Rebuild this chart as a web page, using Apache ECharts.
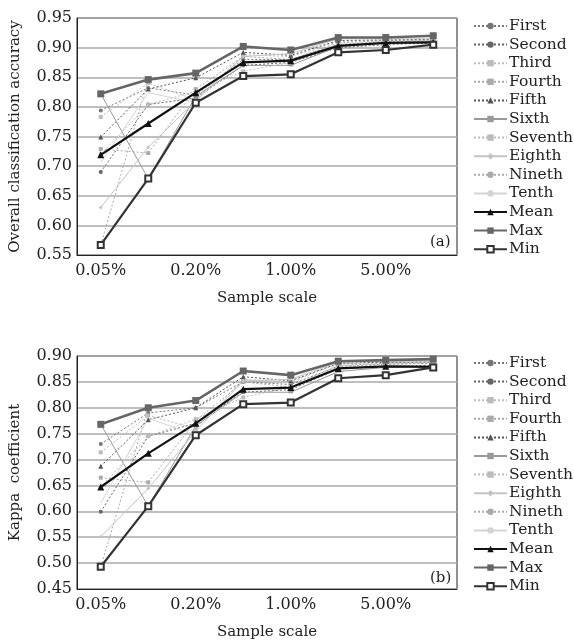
<!DOCTYPE html>
<html><head><meta charset="utf-8">
<script src="https://cdn.jsdelivr.net/npm/echarts@6/dist/echarts.min.js"></script>
<style>html,body{margin:0;padding:0;background:#fff}#c{width:574px;height:641px}</style>
</head><body><div id="c"></div>
<script>
const categories = ['0.05%','0.10%','0.20%','0.50%','1.00%','2.00%','5.00%','10.00%'];
const seriesNames = ['First','Second','Third','Fourth','Fifth','Sixth','Seventh','Eighth','Nineth','Tenth','Mean','Max','Min'];

// Panel (a): overall classification accuracy
const accFirst   = [0.794, 0.832, 0.820, 0.880, 0.880, 0.905, 0.910, 0.910];
const accSecond  = [0.690, 0.804, 0.815, 0.870, 0.875, 0.900, 0.905, 0.908];
const accThird   = [0.783, 0.840, 0.812, 0.888, 0.885, 0.910, 0.912, 0.912];
const accFourth  = [0.729, 0.722, 0.830, 0.885, 0.880, 0.908, 0.912, 0.913];
const accFifth   = [0.749, 0.830, 0.849, 0.892, 0.887, 0.912, 0.913, 0.914];
const accSixth   = [0.822, 0.679, 0.818, 0.870, 0.870, 0.902, 0.908, 0.910];
const accSeventh = [0.720, 0.804, 0.826, 0.860, 0.875, 0.905, 0.910, 0.912];
const accEighth  = [0.630, 0.732, 0.810, 0.885, 0.890, 0.915, 0.915, 0.915];
const accNineth  = [0.567, 0.846, 0.857, 0.902, 0.896, 0.917, 0.917, 0.920];
const accTenth   = [0.706, 0.824, 0.807, 0.852, 0.855, 0.892, 0.896, 0.905];
const accMean    = [0.719, 0.772, 0.824, 0.875, 0.878, 0.903, 0.908, 0.909];
const accMax     = [0.822, 0.846, 0.857, 0.902, 0.896, 0.917, 0.917, 0.920];
const accMin     = [0.567, 0.679, 0.807, 0.852, 0.855, 0.892, 0.896, 0.905];

// Panel (b): kappa coefficient
const kapFirst   = [0.730, 0.790, 0.800, 0.850, 0.845, 0.880, 0.884, 0.886];
const kapSecond  = [0.599, 0.745, 0.770, 0.830, 0.835, 0.875, 0.880, 0.882];
const kapThird   = [0.714, 0.785, 0.760, 0.855, 0.850, 0.885, 0.887, 0.888];
const kapFourth  = [0.665, 0.656, 0.775, 0.850, 0.840, 0.882, 0.886, 0.888];
const kapFifth   = [0.687, 0.777, 0.800, 0.860, 0.852, 0.886, 0.888, 0.889];
const kapSixth   = [0.768, 0.610, 0.765, 0.830, 0.830, 0.870, 0.878, 0.880];
const kapSeventh = [0.647, 0.745, 0.778, 0.820, 0.840, 0.880, 0.884, 0.887];
const kapEighth  = [0.551, 0.644, 0.755, 0.852, 0.855, 0.888, 0.890, 0.890];
const kapNineth  = [0.493, 0.800, 0.814, 0.871, 0.863, 0.890, 0.892, 0.894];
const kapTenth   = [0.616, 0.780, 0.747, 0.807, 0.810, 0.857, 0.863, 0.878];
const kapMean    = [0.647, 0.712, 0.770, 0.836, 0.839, 0.876, 0.880, 0.879];
const kapMax     = [0.768, 0.800, 0.814, 0.871, 0.863, 0.890, 0.892, 0.894];
const kapMin     = [0.493, 0.610, 0.747, 0.807, 0.810, 0.857, 0.863, 0.878];

const accData = [accFirst,accSecond,accThird,accFourth,accFifth,accSixth,accSeventh,accEighth,accNineth,accTenth,accMean,accMax,accMin];
const kapData = [kapFirst,kapSecond,kapThird,kapFourth,kapFifth,kapSixth,kapSeventh,kapEighth,kapNineth,kapTenth,kapMean,kapMax,kapMin];

const FONT = '"DejaVu Serif","Liberation Serif",serif';
const styles = [
  {c:'#777', sym:'circle', ss:4, w:1, t:[2,2]},
  {c:'#666', sym:'circle', ss:4, w:1, t:[2,2]},
  {c:'#bbb', sym:'rect', ss:4, w:1, t:[2,2]},
  {c:'#aaa', sym:'rect', ss:4, w:1, t:[2,2]},
  {c:'#555', sym:'triangle', ss:5, w:1, t:[2,2]},
  {c:'#999', sym:'rect', ss:[5,2], w:1, t:'solid'},
  {c:'#bbb', sym:'rect', ss:4, w:1, t:[2,2]},
  {c:'#c4c4c4', sym:'diamond', ss:4, w:1, t:'solid'},
  {c:'#aaa', sym:'circle', ss:4, w:1, t:[2,2]},
  {c:'#d4d4d4', sym:'none', ss:0, w:1, t:'solid'},
  {c:'#111', sym:'triangle', ss:7, w:2.2, t:'solid'},
  {c:'#666', sym:'rect', ss:7, w:2.6, t:'solid'},
  {c:'#333', sym:'emptyRect', ss:6, w:2.2, t:'solid'}
];

function mkSeries(data, idx) {
  return data.map((d,i)=>{
    const s = styles[i];
    return {
      name: seriesNames[i], type:'line', xAxisIndex: idx, yAxisIndex: idx,
      data: d, symbol: s.sym, symbolSize: s.ss, showSymbol: true,
      lineStyle: {color: s.c, width: s.w, type: s.t},
      itemStyle: {color: s.c, borderColor: s.c, borderWidth: s.sym==='emptyRect'?1.5:0},
      z: i>=10 ? 5 : 2, animation:false
    };
  });
}

function mkXAxis(idx) {
  return {
    type:'category', gridIndex: idx, data: categories, boundaryGap: true,
    axisTick:{show:false},
    axisLine:{show:true, lineStyle:{color:'#222', width:1}},
    axisLabel:{interval:1, fontFamily:FONT, fontSize:16, color:'#222', margin:8},
    name:'Sample scale', nameLocation:'middle', nameGap:36,
    nameTextStyle:{fontFamily:FONT, fontSize:15, color:'#222'}
  };
}
function mkYAxis(idx, min, max, name) {
  return {
    type:'value', gridIndex: idx, min:min, max:max, interval:0.05,
    axisTick:{show:false},
    axisLine:{show:true, lineStyle:{color:'#222', width:1}},
    axisLabel:{fontFamily:FONT, fontSize:16, color:'#222', margin:5, formatter:v=>v.toFixed(2)},
    splitLine:{show:true, lineStyle:{color:'#aaa', width:1.5}},
    name:name, nameLocation:'middle', nameGap:54,
    nameTextStyle:{fontFamily:FONT, fontSize:15, color:'#222'}
  };
}
function mkLegend(top) {
  return {
    orient:'vertical', left:468, top:top, itemWidth:33, itemHeight:8, itemGap:2.6,
    data: seriesNames,
    textStyle:{fontFamily:FONT, fontSize:15.5, lineHeight:16, color:'#222', padding:[0,0,0,-3]},
    selectedMode:false
  };
}

const chart = echarts.init(document.getElementById('c'), null, {renderer:'canvas'});
chart.setOption({
  backgroundColor:'#fff',
  animation:false,
  grid:[
    {left:77, top:18, width:380, height:237, show:true, borderColor:'#222', borderWidth:1},
    {left:77, top:356, width:380, height:236, show:true, borderColor:'#222', borderWidth:1}
  ],
  xAxis:[mkXAxis(0), mkXAxis(1)],
  yAxis:[mkYAxis(0,0.55,0.95,'Overall classification accuracy'), mkYAxis(1,0.45,0.90,'Kappa  coefficient')],
  legend:[mkLegend(13), mkLegend(350)],
  graphic:[
    {type:'text', left:430, top:235, style:{text:'(a)', font:'15px '+FONT, fill:'#222'}},
    {type:'text', left:430, top:571, style:{text:'(b)', font:'15px '+FONT, fill:'#222'}}
  ],
  series: mkSeries(accData,0).concat(mkSeries(kapData,1))
});
</script>
</body></html>
